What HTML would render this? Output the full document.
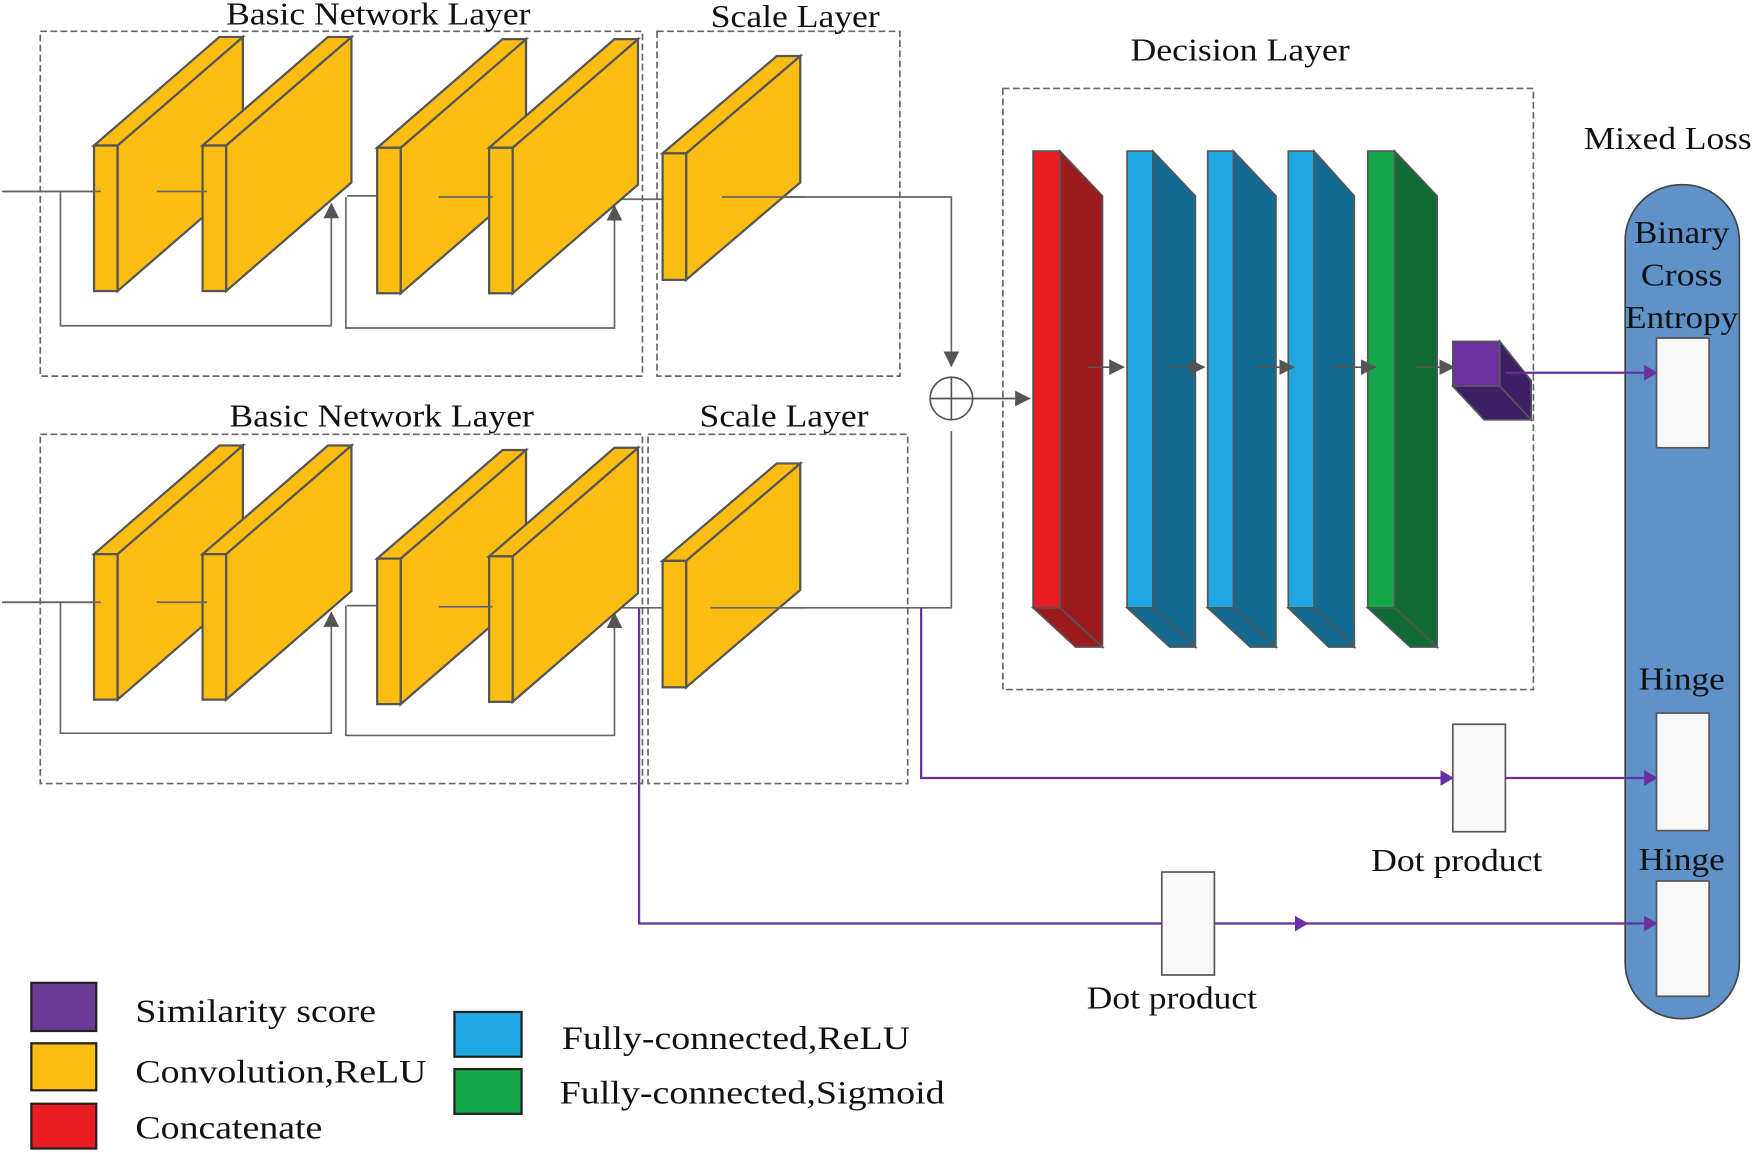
<!DOCTYPE html>
<html><head><style>html,body{margin:0;padding:0;background:#fff}svg{display:block}text{font-family:"Liberation Serif",serif;fill:#111}</style></head>
<body>
<svg width="1755" height="1153" viewBox="0 0 1568 1030" preserveAspectRatio="none" xmlns="http://www.w3.org/2000/svg">
<defs>
<marker id="ap" markerWidth="12" markerHeight="14" refX="11" refY="7" orient="auto" markerUnits="userSpaceOnUse"><path d="M0,0L12,7L0,14z" fill="#6a2fa0"/></marker>
<marker id="ab" markerWidth="14" markerHeight="14" refX="13" refY="7" orient="auto" markerUnits="userSpaceOnUse"><path d="M0,0L14,7L0,14z" fill="#555"/></marker>
<g id="yb">
<polygon points="21,0 133,-97 133,33 21,130" fill="#fbbd12" stroke="#555" stroke-width="2"/>
<polygon points="0,0 112,-97 133,-97 21,0" fill="#fbbd12" stroke="#555" stroke-width="2"/>
<rect x="0" y="0" width="21" height="130" fill="#fbbd12" stroke="#555" stroke-width="2"/>
</g>
<g id="sb">
<polygon points="21,0 123,-87 123,26 21,113" fill="#fbbd12" stroke="#555" stroke-width="2"/>
<polygon points="0,0 102,-87 123,-87 21,0" fill="#fbbd12" stroke="#555" stroke-width="2"/>
<rect x="0" y="0" width="21" height="113" fill="#fbbd12" stroke="#555" stroke-width="2"/>
</g>
</defs>
<g fill="none" stroke="#666" stroke-width="1.5" stroke-dasharray="6,3">
<rect x="36" y="28" width="538" height="308"/><rect x="587" y="28" width="217" height="308"/>
<rect x="36" y="388" width="538" height="312"/><rect x="579" y="388" width="232" height="312"/>
<rect x="896" y="79" width="474" height="537"/>
</g>
<g font-size="28" lengthAdjust="spacingAndGlyphs">
<text x="202" y="22" textLength="272" lengthAdjust="spacingAndGlyphs">Basic Network Layer</text>
<text x="635" y="24" textLength="151" lengthAdjust="spacingAndGlyphs">Scale Layer</text>
<text x="205" y="381" textLength="272" lengthAdjust="spacingAndGlyphs">Basic Network Layer</text>
<text x="625" y="381" textLength="151" lengthAdjust="spacingAndGlyphs">Scale Layer</text>
<text x="1010" y="54" textLength="196" lengthAdjust="spacingAndGlyphs">Decision Layer</text>
<text x="1415" y="133" textLength="150" lengthAdjust="spacingAndGlyphs">Mixed Loss</text>
</g>
<g fill="none" stroke="#666" stroke-width="1.5">
<path d="M2,171H95M140,171H190M310,175H360M392,176H445M530,178H600M645,176H850V326" />
<path d="M54,171V291H296V182" marker-end="url(#ab)"/>
<path d="M309,176V293H549V184" marker-end="url(#ab)"/>
<path d="M2,538H95M140,538H190M310,541H360M392,542H445M530,543H600M635,543H850V385"/>
<path d="M54,538V655H296V547" marker-end="url(#ab)"/>
<path d="M309,541V657H549V548" marker-end="url(#ab)"/>
</g>
<path d="M850,315V327" stroke="#555" stroke-width="2" marker-end="url(#ab)"/>
<use href="#yb" x="84" y="130"/><use href="#yb" x="181" y="130"/><use href="#yb" x="337" y="132"/><use href="#yb" x="437" y="132"/>
<use href="#sb" x="592" y="137"/>
<use href="#yb" x="84" y="495"/><use href="#yb" x="181" y="495"/><use href="#yb" x="337" y="499"/><use href="#yb" x="437" y="497"/>
<use href="#sb" x="592" y="501"/>
<g fill="none" stroke="#666" stroke-width="1.5"><path d="M2,171H90M140,171H185M392,176H440M645,176H720M2,538H90M140,538H185M392,542H440M635,543H720"/></g>
<circle cx="850" cy="356" r="19" fill="#fff" stroke="#555" stroke-width="1.5"/>
<path d="M831,356H869M850,337V375" stroke="#555" stroke-width="1.5"/>
<path d="M869,356H920" stroke="#555" stroke-width="1.5" marker-end="url(#ab)"/>
<g stroke="#555" stroke-width="1.5">
<polygon points="947,135 985,175 985,578 947,543" fill="#9b1b1f"/><polygon points="923,543 947,543 985,578 961,578" fill="#9b1b1f"/><rect x="923" y="135" width="24" height="408" fill="#ec1c24"/>
<polygon points="1030,135 1068,175 1068,578 1030,543" fill="#136b92"/><polygon points="1007,543 1030,543 1068,578 1045,578" fill="#136b92"/><rect x="1007" y="135" width="23" height="408" fill="#1ea7e1"/>
<polygon points="1102,135 1140,175 1140,578 1102,543" fill="#136b92"/><polygon points="1079,543 1102,543 1140,578 1117,578" fill="#136b92"/><rect x="1079" y="135" width="23" height="408" fill="#1ea7e1"/>
<polygon points="1174,135 1210,175 1210,578 1174,543" fill="#136b92"/><polygon points="1151,543 1174,543 1210,578 1187,578" fill="#136b92"/><rect x="1151" y="135" width="23" height="408" fill="#1ea7e1"/>
<polygon points="1246,135 1284,175 1284,578 1246,543" fill="#0f6a36"/><polygon points="1222,543 1246,543 1284,578 1260,578" fill="#0f6a36"/><rect x="1222" y="135" width="24" height="408" fill="#14a84a"/>
<polygon points="1340,305 1368,340 1368,375 1340,345" fill="#3c1f64"/><polygon points="1298,345 1340,345 1368,375 1326,375" fill="#3c1f64"/><rect x="1298" y="305" width="42" height="40" fill="#6b32a0"/>
</g>
<g stroke="#555" stroke-width="1.5">
<path d="M972,328H1004" marker-end="url(#ab)"/><path d="M1045,328H1076" marker-end="url(#ab)"/><path d="M1122,328H1156" marker-end="url(#ab)"/><path d="M1190,328H1229" marker-end="url(#ab)"/><path d="M1265,328H1299" marker-end="url(#ab)"/>
</g>
<rect x="1452" y="165" width="102" height="745" rx="50" fill="#5e92c8" stroke="#444" stroke-width="1.5"/>
<g font-size="28">
<text x="1460" y="217" textLength="85" lengthAdjust="spacingAndGlyphs">Binary</text>
<text x="1466" y="255" textLength="73" lengthAdjust="spacingAndGlyphs">Cross</text>
<text x="1452" y="293" textLength="101" lengthAdjust="spacingAndGlyphs">Entropy</text>
<text x="1464" y="616" textLength="77" lengthAdjust="spacingAndGlyphs">Hinge</text>
<text x="1464" y="777" textLength="77" lengthAdjust="spacingAndGlyphs">Hinge</text>
<text x="1225" y="778" textLength="153" lengthAdjust="spacingAndGlyphs">Dot product</text>
<text x="971" y="901" textLength="152" lengthAdjust="spacingAndGlyphs">Dot product</text>
</g>
<g fill="#f8f8f8" stroke="#555" stroke-width="1.5">
<rect x="1480" y="302" width="47" height="98"/><rect x="1480" y="637" width="47" height="105"/><rect x="1480" y="787" width="47" height="103"/>
<rect x="1298" y="647" width="47" height="96"/><rect x="1038" y="779" width="47" height="92"/>
</g>
<g fill="none" stroke="#6a2fa0" stroke-width="2">
<path d="M1345,333H1480" marker-end="url(#ap)"/>
<path d="M823,543V695H1298" marker-end="url(#ap)"/>
<path d="M1345,695H1480" marker-end="url(#ap)"/>
<path d="M571,543V825H1038"/>
<path d="M1085,825H1168" marker-end="url(#ap)"/>
<path d="M1165,825H1480" marker-end="url(#ap)"/>
</g>
<g stroke="#222" stroke-width="2">
<rect x="28" y="878" width="58" height="43" fill="#6b3a96"/>
<rect x="28" y="932" width="58" height="42" fill="#fbbd12"/>
<rect x="28" y="986" width="58" height="40" fill="#ec1c24"/>
<rect x="406" y="904" width="60" height="40" fill="#1ea7e1"/>
<rect x="406" y="955" width="60" height="40" fill="#14a84a"/>
</g>
<g font-size="29">
<text x="121" y="913" textLength="215" lengthAdjust="spacingAndGlyphs">Similarity score</text>
<text x="121" y="967" textLength="260" lengthAdjust="spacingAndGlyphs">Convolution,ReLU</text>
<text x="121" y="1017" textLength="167" lengthAdjust="spacingAndGlyphs">Concatenate</text>
<text x="502" y="937" textLength="311" lengthAdjust="spacingAndGlyphs">Fully-connected,ReLU</text>
<text x="500" y="986" textLength="344" lengthAdjust="spacingAndGlyphs">Fully-connected,Sigmoid</text>
</g>
</svg>
</body></html>
